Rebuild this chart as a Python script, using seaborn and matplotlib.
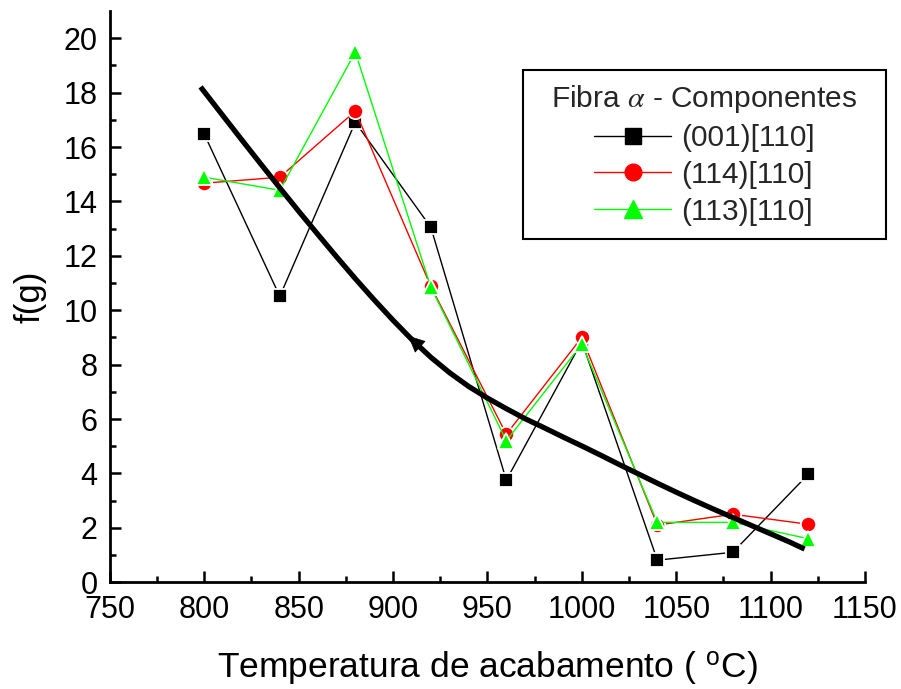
import numpy as np
import pandas as pd
import matplotlib
matplotlib.use("Agg")
import matplotlib.pyplot as plt
from matplotlib.lines import Line2D
from matplotlib.patches import Rectangle
import seaborn as sns

# Finishing temperature (°C)
temperatura = [800, 840, 880, 920, 960, 1000, 1040, 1080, 1120]

# f(g) of the alpha-fibre components
f_001_110 = [16.47, 10.51, 16.91, 13.05, 3.75, 8.85, 0.81, 1.10, 3.97]
f_114_110 = [14.67, 14.89, 17.32, 10.88, 5.44, 9.00, 2.10, 2.50, 2.13]
f_113_110 = [14.89, 14.41, 19.49, 10.85, 5.20, 8.75, 2.20, 2.20, 1.60]

# Trend curve
tendencia_x = [798, 810, 820, 830, 840, 850, 860, 870, 880, 890, 900, 910,
               920, 930, 940, 950, 960, 970, 980, 990, 1000, 1010, 1020,
               1030, 1040, 1050, 1060, 1070, 1080, 1090, 1100, 1110, 1118]
tendencia_y = [18.21, 17.14, 16.25, 15.37, 14.50, 13.64, 12.80, 11.97, 11.16,
               10.38, 9.63, 8.92, 8.27, 7.70, 7.20, 6.77, 6.38, 6.01, 5.68,
               5.34, 5.01, 4.67, 4.32, 3.98, 3.64, 3.31, 2.99, 2.68, 2.38,
               2.08, 1.78, 1.48, 1.22]

rotulos = ["(001)[110]", "(114)[110]", "(113)[110]"]
cores = ["#000000", "#ff0000", "#00ff00"]
marcadores = ["s", "o", "^"]
tamanhos = [10.5, 11, 12]

sns.set_theme(style="ticks")
plt.rcParams["font.family"] = ["Liberation Sans", "DejaVu Sans"]
plt.rcParams["mathtext.fontset"] = "stix"

fig = plt.figure(figsize=(9.01, 6.89), dpi=100)
ax = fig.add_axes([0.122, 0.155, 0.838, 0.829])

df = pd.DataFrame({"T": temperatura * 3,
                   "f": f_001_110 + f_114_110 + f_113_110,
                   "comp": sum([[r] * len(temperatura) for r in rotulos], [])})

# drawing order: red, green, then black on top
for i in [1, 2, 0]:
    sub = df[df["comp"] == rotulos[i]]
    sns.lineplot(data=sub, x="T", y="f", ax=ax, color=cores[i], lw=1.0,
                 marker=marcadores[i], markersize=tamanhos[i],
                 markeredgecolor="white", markeredgewidth=1.3,
                 markerfacecolor=cores[i], legend=False, zorder=3 + i * 0.1)

df_t = pd.DataFrame({"T": tendencia_x, "f": tendencia_y})
sns.lineplot(data=df_t, x="T", y="f", ax=ax, color="black", lw=3.8,
             legend=False, zorder=5, solid_capstyle="butt",
             solid_joinstyle="round")

# direction arrow on the trend curve
ax.annotate("", xy=(908, 9.06), xytext=(925, 7.98),
            arrowprops=dict(arrowstyle="-|>,head_length=0.85,head_width=0.4",
                            mutation_scale=13, color="black", lw=0.5,
                            shrinkA=0, shrinkB=0),
            zorder=6)

ax.set_xlim(750, 1150)
ax.set_ylim(0, 21)
ax.set_xticks(np.arange(750, 1151, 50))
ax.set_yticks(np.arange(0, 21, 2))
ax.set_xticks(np.arange(775, 1150, 50), minor=True)
ax.set_yticks(np.arange(1, 21, 2), minor=True)

for s in ["top", "right"]:
    ax.spines[s].set_visible(False)
for s in ["left", "bottom"]:
    ax.spines[s].set_linewidth(2.0)
    ax.spines[s].set_color("black")

ax.tick_params(which="major", direction="in", length=8, width=1.8,
               labelsize=22, colors="black")
ax.tick_params(axis="x", which="major", pad=9.5)
ax.tick_params(axis="y", which="major", pad=9)
ax.tick_params(which="minor", direction="in", length=4.5, width=1.8,
               colors="black")

ax.set_xlabel("Temperatura de acabamento ( $^\\mathregular{o}$C)", fontsize=25.5,
              labelpad=17, color="black")
ax.set_ylabel("f(g)", fontsize=25, labelpad=12, color="black")

# legend box
fig.patches.append(Rectangle((523 / 901, 1 - 239 / 689), 363 / 901, 169 / 689,
                             transform=fig.transFigure, facecolor="white",
                             edgecolor="black", lw=1.5, zorder=7))

handles = [Line2D([], [], color=cores[i], lw=1.0, marker=marcadores[i],
                  markersize=tamanhos[i] + 1, markerfacecolor=cores[i],
                  markeredgecolor=cores[i]) for i in range(3)]
leg = fig.legend(handles, rotulos, title="Fibra $\\alpha$ - Componentes",
                 loc="upper center", bbox_to_anchor=(704.5 / 901, 1 - 83 / 689),
                 bbox_transform=fig.transFigure, fontsize=21.5,
                 title_fontsize=21.5, frameon=False,
                 handlelength=2.58, handletextpad=0.33, labelspacing=0.3,
                 borderpad=0, borderaxespad=0)
leg.set_zorder(8)

fig.savefig("out.png", dpi=100)
